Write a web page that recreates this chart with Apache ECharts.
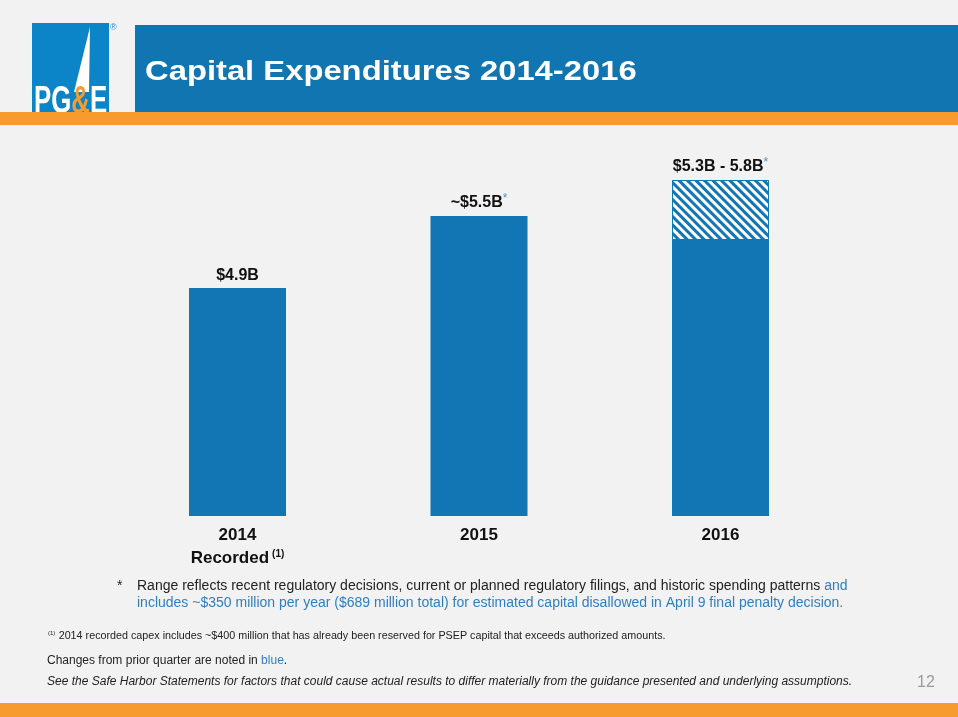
<!DOCTYPE html>
<html>
<head>
<meta charset="utf-8">
<script src="https://cdn.jsdelivr.net/npm/echarts@6/dist/echarts.min.js"></script>
<style>
html,body{margin:0;padding:0;background:#f2f2f2;}
#c{width:958px;height:717px;}
</style>
</head>
<body>
<div id="c"></div>
<script>
var categories = ['2014', '2015', '2016'];
var categorySub = ['Recorded', '', ''];
var categorySup = ['(1)', '', ''];
var baseValues = [4.9, 5.5, 5.3];
var rangeValues = [null, null, 0.5];
var valueLabels = ['$4.9B', '~$5.5B', '$5.3B - 5.8B'];
var labelStar = [false, true, true];

var BLUE = '#1176b3';
var ORANGE = '#f79b2e';

var chart = echarts.init(document.getElementById('c'));

function valueLabel(i) {
  return '{v|' + valueLabels[i] + '}' + (labelStar[i] ? '{s|*}' : '');
}
var labelRich = {
  v: {fontFamily: 'Arial, Liberation Sans', fontSize: 16, fontWeight: 'bold', color: '#111'},
  s: {fontFamily: 'Arial, Liberation Sans', fontSize: 12, color: '#4a90d0', padding: [0, 0, 7, 0]}
};

var option = {
  backgroundColor: '#f2f2f2',
  animation: false,
  grid: {left: 116.75, right: 116.75, top: 120, bottom: 201},
  xAxis: {
    type: 'category',
    data: categories,
    axisLine: {show: false},
    axisTick: {show: false},
    axisLabel: {
      margin: 8,
      interval: 0,
      formatter: function (val, i) {
        var s = '{a|' + val + '}';
        if (categorySub[i]) s += '\n{b|' + categorySub[i] + '}{c|' + categorySup[i] + '}';
        return s;
      },
      rich: {
        a: {fontFamily: 'Arial, Liberation Sans', fontSize: 17, fontWeight: 'bold', color: '#111', lineHeight: 23},
        b: {fontFamily: 'Arial, Liberation Sans', fontSize: 17, fontWeight: 'bold', color: '#111', lineHeight: 23},
        c: {fontFamily: 'Arial, Liberation Sans', fontSize: 10, fontWeight: 'bold', color: '#111', padding: [0, 0, 8, 3]}
      }
    }
  },
  yAxis: {type: 'value', min: 3, max: 6.3, show: false, splitLine: {show: false}},
  series: [
    {
      type: 'bar',
      stack: 'capex',
      data: baseValues,
      barWidth: 97,
      itemStyle: {color: BLUE},
      label: {
        show: true,
        position: 'top',
        distance: 4,
        formatter: function (p) {
          return rangeValues[p.dataIndex] ? '' : valueLabel(p.dataIndex);
        },
        rich: labelRich
      }
    },
    {
      type: 'bar',
      stack: 'capex',
      data: rangeValues,
      barWidth: 97,
      itemStyle: {
        color: '#ffffff',
        borderColor: BLUE,
        borderWidth: 1,
        decal: {
          symbol: 'rect',
          symbolSize: 1,
          dashArrayX: [1, 0],
          dashArrayY: [2.5, 3],
          rotation: Math.PI / 4,
          color: BLUE,
          backgroundColor: '#ffffff'
        }
      },
      label: {
        show: true,
        position: 'top',
        distance: 4,
        formatter: function (p) { return valueLabel(p.dataIndex); },
        rich: labelRich
      }
    }
  ],
  graphic: [
    // header bar
    {type: 'rect', shape: {x: 135, y: 25, width: 823, height: 88}, style: {fill: '#1175b2'}},
    // logo box
    {type: 'rect', shape: {x: 32, y: 23, width: 77, height: 90}, style: {fill: '#0b85c7'}},
    {type: 'polygon', shape: {points: [[90, 27], [89, 92], [74, 92]]}, style: {fill: '#ffffff'}},
    {type: 'text', left: 34, top: 84, scaleX: 0.68, style: {
      text: '{p|PG}{e|&}{p|E}',
      rich: {
        p: {fontFamily: 'Arial, Liberation Sans', fontSize: 38, fontWeight: 'bold', fill: '#ffffff'},
        e: {fontFamily: 'Arial, Liberation Sans', fontSize: 38, fontWeight: 'bold', fill: ORANGE}
      }
    }},
    {type: 'text', left: 110, top: 23, style: {text: '®', fontSize: 9, fill: '#2a8fd0', fontFamily: 'Arial'}},
    // orange stripe
    {type: 'rect', shape: {x: 0, y: 112, width: 958, height: 13}, style: {fill: ORANGE}},
    // title
    {type: 'text', left: 145, top: 58, scaleX: 1.17, style: {
      text: 'Capital Expenditures 2014-2016',
      fontFamily: 'Arial, Liberation Sans', fontSize: 28, fontWeight: 'bold', fill: '#ffffff'
    }},
    // footnote *
    {type: 'text', left: 117, top: 579, style: {text: '*', fontFamily: 'Arial, Liberation Sans', fontSize: 14, fill: '#222'}},
    {type: 'text', left: 137, top: 579, style: {
      text: '{d|Range reflects recent regulatory decisions, current or planned regulatory filings, and historic spending patterns }{b|and}\n{b|includes ~$350 million per year ($689 million total) for estimated capital disallowed in April 9 final penalty decision.}',
      rich: {
        d: {fontFamily: 'Arial, Liberation Sans', fontSize: 14, fill: '#222', lineHeight: 17},
        b: {fontFamily: 'Arial, Liberation Sans', fontSize: 14, fill: '#2f7fc0', lineHeight: 17}
      }
    }},
    {type: 'text', left: 48, top: 630, style: {
      text: '{s|(1)} {t|2014 recorded capex includes ~$400 million that has already been reserved for PSEP capital that exceeds authorized amounts.}',
      rich: {
        s: {fontFamily: 'Arial, Liberation Sans', fontSize: 6, fill: '#222', padding: [0, 0, 5, 0]},
        t: {fontFamily: 'Arial, Liberation Sans', fontSize: 10.75, fill: '#222'}
      }
    }},
    {type: 'text', left: 47, top: 655, style: {
      text: '{d|Changes from prior quarter are noted in }{b|blue}{d|.}',
      rich: {
        d: {fontFamily: 'Arial, Liberation Sans', fontSize: 12, fill: '#222'},
        b: {fontFamily: 'Arial, Liberation Sans', fontSize: 12, fill: '#2f7fc0'}
      }
    }},
    {type: 'text', left: 47, top: 676, style: {
      text: 'See the Safe Harbor Statements for factors that could cause actual results to differ materially from the guidance presented and underlying assumptions.',
      fontFamily: 'Arial, Liberation Sans', fontSize: 12, fontStyle: 'italic', fill: '#222'
    }},
    {type: 'text', left: 917, top: 675, style: {text: '12', fontFamily: 'Arial, Liberation Sans', fontSize: 16, fill: '#9a9a9a'}},
    // bottom stripe
    {type: 'rect', shape: {x: 0, y: 703, width: 958, height: 14}, style: {fill: ORANGE}}
  ]
};
chart.setOption(option);
</script>
</body>
</html>
